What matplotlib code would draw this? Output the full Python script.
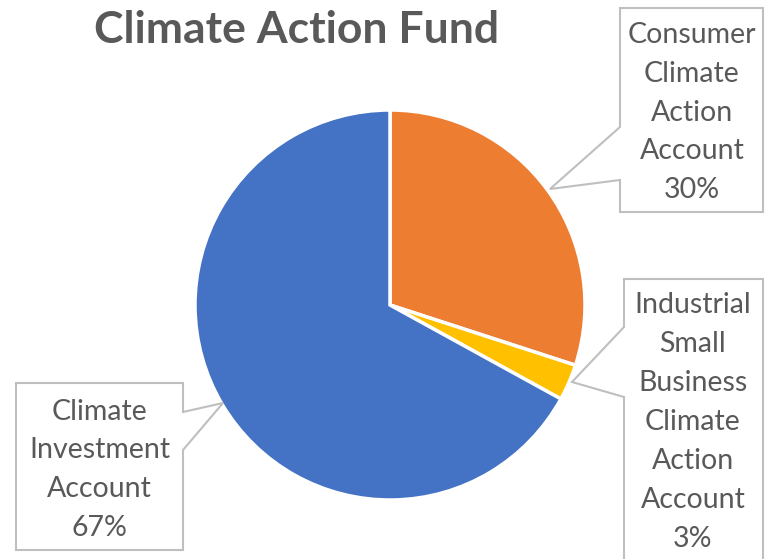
import matplotlib
matplotlib.use("Agg")
import matplotlib.pyplot as plt
from matplotlib.patches import Polygon

W, H = 765, 559

categories = ["Consumer Climate Action Account",
              "Industrial Small Business Climate Action Account",
              "Climate Investment Account"]
values = [30, 3, 67]
colors = ["#ED7D31", "#FFC000", "#4472C4"]
label_lines = [["Consumer", "Climate", "Action", "Account", "30%"],
               ["Industrial", "Small", "Business", "Climate", "Action", "Account", "3%"],
               ["Climate", "Investment", "Account", "67%"]]
title = "Climate Action Fund"

TXT = "#595959"
FONT = "Lato"

fig = plt.figure(figsize=(W / 100, H / 100), dpi=100)
ax = fig.add_axes([0, 0, 1, 1])


def P(x, y):
    return (x, H - y)


ax.pie(values, colors=colors, startangle=90, counterclock=False,
       center=P(390, 305), radius=195,
       wedgeprops=dict(edgecolor="white", linewidth=2.5))

# callout boxes (pixel coords, y downward)
callouts = [
    [(620, 8), (763, 8), (763, 212), (620, 212), (620, 180), (550, 189), (620, 127)],
    [(624, 279), (763, 279), (763, 580), (624, 580), (624, 397), (572, 382), (624, 327)],
    [(16, 383), (183, 383), (183, 412), (223, 403), (183, 450), (183, 550), (16, 550)],
]
for pts in callouts:
    ax.add_patch(Polygon([P(x, y) for x, y in pts], closed=True, facecolor="white",
                         edgecolor="#BFBFBF", linewidth=1.5, zorder=3))

# label text: (center x, first baseline, spacing)
layouts = [(692, 43, 38.8), (693, 313, 39.0), (99.5, 420, 38.5)]
for lines, (cx, y0, dy) in zip(label_lines, layouts):
    for i, s in enumerate(lines):
        ax.text(*P(cx, y0 + i * dy), s, ha="center", va="baseline",
                fontsize=20.5, color=TXT, family=FONT, zorder=4)

ax.text(*P(297, 43), title, ha="center", va="baseline", fontsize=32,
        fontweight="bold", color=TXT, family=FONT)

ax.set_xlim(0, W)
ax.set_ylim(0, H)
ax.set_aspect("auto")
ax.axis("off")
fig.savefig("out.png", dpi=100)
